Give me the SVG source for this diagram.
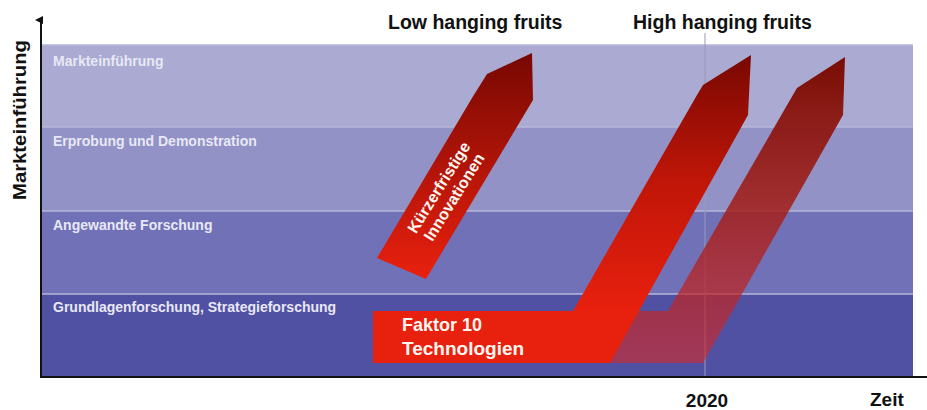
<svg xmlns="http://www.w3.org/2000/svg" width="927" height="410" viewBox="0 0 927 410">
<style>
.band-label{font-family:"Liberation Sans",Arial,sans-serif;font-weight:bold;font-size:14px;fill:#e8e8f4}
.title{font-family:"Liberation Sans",Arial,sans-serif;font-weight:bold;font-size:19.5px;fill:#111}
.axis-label{font-family:"Liberation Sans",Arial,sans-serif;font-weight:bold;font-size:19px;fill:#111}
.arrow-text{font-family:"Liberation Sans",Arial,sans-serif;font-weight:bold;fill:#fff6f0}
.sep{stroke:#b6b6d8;stroke-width:1.5}
.axis{stroke:#111;stroke-width:2;fill:none}
</style>
<defs>
<linearGradient id="g1" gradientUnits="userSpaceOnUse" x1="0" y1="55" x2="0" y2="275">
<stop offset="0" stop-color="#780802"/>
<stop offset="0.5" stop-color="#b01408"/>
<stop offset="1" stop-color="#e8200e"/>
</linearGradient>
<linearGradient id="g2" gradientUnits="userSpaceOnUse" x1="0" y1="55" x2="0" y2="310">
<stop offset="0" stop-color="#780802"/>
<stop offset="0.5" stop-color="#c01608"/>
<stop offset="1" stop-color="#e8200e"/>
</linearGradient>
<linearGradient id="g3" gradientUnits="userSpaceOnUse" x1="0" y1="57" x2="0" y2="363">
<stop offset="0" stop-color="#780c04" stop-opacity="1"/>
<stop offset="0.45" stop-color="#a01a12" stop-opacity="0.85"/>
<stop offset="1" stop-color="#d42828" stop-opacity="0.6"/>
</linearGradient>
<marker id="ah" markerWidth="8" markerHeight="8" refX="4" refY="6" orient="auto-start-reverse" markerUnits="userSpaceOnUse">
<path d="M0,8 L4,0 L8,8 Z" fill="#111"/>
</marker>
</defs>

<g id="bands">
<g id="band-markteinfuehrung"><rect x="42" y="45" width="871" height="82" fill="#aaaad2"/><text class="band-label" x="53" y="66">Markteinführung</text></g>
<g id="band-erprobung"><rect x="42" y="127" width="871" height="84" fill="#9292c6"/><text class="band-label" x="53" y="146">Erprobung und Demonstration</text></g>
<g id="band-angewandte"><rect x="42" y="211" width="871" height="83" fill="#7171b8"/><text class="band-label" x="53" y="230">Angewandte Forschung</text></g>
<g id="band-grundlagen"><rect x="42" y="294" width="871" height="82" fill="#5151a4"/><text class="band-label" x="53" y="312">Grundlagenforschung, Strategieforschung</text></g>
<line class="sep" x1="42" y1="45" x2="913" y2="45"/>
<line class="sep" x1="42" y1="127" x2="913" y2="127"/>
<line class="sep" x1="42" y1="211" x2="913" y2="211"/>
<line class="sep" x1="42" y1="294" x2="913" y2="294"/>
</g>

<line id="line-2020" x1="705" y1="33" x2="705" y2="376" stroke="#9898b8" stroke-width="1"/>

<g id="arrow-high">
<polygon points="600,311 668,311 790,100 797,88 845,57 843,115 703,363 600,363" fill="url(#g3)"/>
</g>

<g id="arrow-faktor10">
<polygon points="373,311 573,311 697,95 703,85 751,55 748,115 610,363 373,363" fill="url(#g2)"/>
<text class="arrow-text" x="402" y="331" font-size="18">Faktor 10</text>
<text class="arrow-text" x="402" y="355" font-size="19">Technologien</text>
</g>

<g id="arrow-kurz">
<polygon points="377,258 472,98 487,74 532,53 533,100 426,279" fill="url(#g1)"/>
<g transform="translate(446,192) rotate(-58)">
<text class="arrow-text" x="0" y="-3" font-size="16" text-anchor="middle">Kürzerfristige</text>
<text class="arrow-text" x="0" y="15" font-size="16" text-anchor="middle">Innovationen</text>
</g>
</g>

<g id="connectors">
<line class="axis" x1="41" y1="377" x2="41" y2="20" marker-end="url(#ah)"/>
<line class="axis" x1="40" y1="377" x2="927" y2="377"/>
</g>

<g id="labels">
<text class="title" x="388" y="29">Low hanging fruits</text>
<text class="title" x="633" y="29">High hanging fruits</text>
<text class="axis-label" x="707" y="407" text-anchor="middle">2020</text>
<text class="axis-label" x="870" y="406">Zeit</text>
<text class="axis-label" transform="translate(26,120) rotate(-90)" text-anchor="middle" textLength="160" lengthAdjust="spacingAndGlyphs">Markteinführung</text>
</g>
</svg>
